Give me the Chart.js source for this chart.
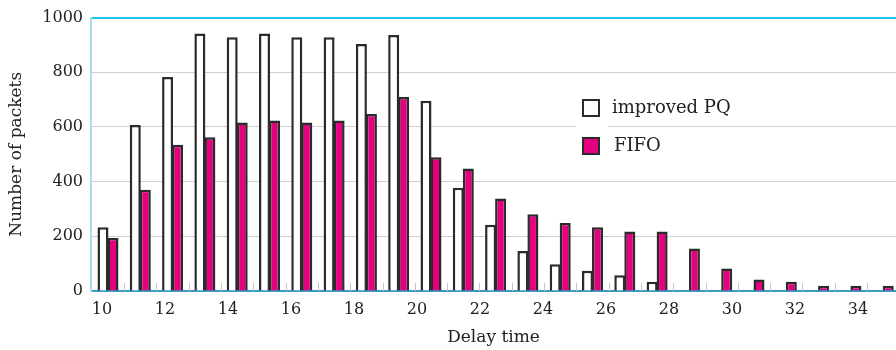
<!DOCTYPE html>
<html>
<head>
<meta charset="utf-8">
<script src="https://cdn.jsdelivr.net/npm/chart.js@4/dist/chart.umd.min.js"></script>
<style>
  html, body { margin: 0; padding: 0; background: #fff; }
  #wrap { width: 896px; height: 350px; overflow: hidden; }
</style>
</head>
<body>
<div id="wrap"><canvas id="delay-chart" width="896" height="350"></canvas></div>
<script>
// values
const delays = [10, 11, 12, 13, 14, 15, 16, 17, 18, 19, 20, 21, 22, 23, 24, 25, 26, 27, 28, 29, 30, 31, 32, 33, 34];
const improvedPQ = [233, 607, 783, 942, 928, 942, 928, 928, 903, 936, 696, 378, 242, 146, 98, 74, 58, 34, null, null, null, null, null, null, null];
const fifo = [194, 370, 535, 562, 616, 624, 616, 624, 647, 710, 489, 448, 338, 281, 249, 233, 218, 218, 155, 82, 42, 34, 19, 19, 19];
const yTicks = [0, 200, 400, 600, 800, 1000];

const serif = "'DejaVu Serif', 'Liberation Serif', serif";
const ink = '#222';

// short gray marks between the bar pairs, just above the axis
const pairTicks = {
  id: 'pairTicks',
  beforeDatasetsDraw(chart) {
    const xb = chart.scales.xb;
    const bottom = chart.chartArea.bottom;
    const ctx = chart.ctx;
    ctx.save();
    ctx.strokeStyle = '#c4c4c4';
    ctx.lineWidth = 1;
    delays.forEach(d => {
      const px = Math.round(xb.getPixelForValue(d + 0.5)) + 0.5;
      ctx.beginPath();
      ctx.moveTo(px, bottom - 8);
      ctx.lineTo(px, bottom);
      ctx.stroke();
    });
    ctx.restore();
  }
};

// legend drawn inside the plot, like the original
const insideLegend = {
  id: 'insideLegend',
  afterDraw(chart) {
    const ctx = chart.ctx;
    ctx.save();
    // gap in the 600 gridline behind the legend squares
    ctx.fillStyle = '#fff';
    ctx.fillRect(576, 118, 32, 14);
    chart.data.datasets.forEach((ds, i) => {
      const y = 99 + i * 38;
      ctx.fillStyle = ds.backgroundColor;
      ctx.fillRect(582, y, 18, 18);
      ctx.lineWidth = 2;
      ctx.strokeStyle = '#2b2b2b';
      ctx.strokeRect(583, y + 1, 16, 16);
      ctx.fillStyle = ink;
      ctx.font = '18px ' + serif;
      ctx.textBaseline = 'middle';
      ctx.fillText(ds.label, i === 0 ? 612 : 614, y + 9);
    });
    ctx.restore();
  }
};

const config = {
  type: 'bar',
  data: {
    labels: delays,
    datasets: [
      {
        label: 'improved PQ',
        data: improvedPQ,
        backgroundColor: '#ffffff',
        borderColor: '#2b2b2b',
        borderWidth: 2.5,
        xAxisID: 'xb',
        categoryPercentage: 0.62,
        barPercentage: 1.1,
      },
      {
        label: 'FIFO',
        data: fifo,
        backgroundColor: '#e4007f',
        borderColor: '#2b2b2b',
        borderWidth: 2.5,
        xAxisID: 'xb',
        categoryPercentage: 0.62,
        barPercentage: 1.1,
      },
    ],
  },
  options: {
    responsive: false,
    animation: false,
    devicePixelRatio: 1,
    layout: { padding: { top: 15, left: 0, right: 0, bottom: 0 } },
    plugins: { legend: { display: false }, tooltip: { enabled: false } },
    scales: {
      xb: {
        type: 'linear',
        display: false,
        offset: false,
        min: 9.474,
        max: 34.396,
      },
      x: {
        type: 'linear',
        position: 'bottom',
        offset: false,
        min: 9.651,
        max: 35.206,
        afterFit: s => { s.height = 59; },
        border: { color: '#3a9cc4', width: 2 },
        grid: { drawOnChartArea: false, drawTicks: false },
        ticks: {
          stepSize: 2,
          includeBounds: false,
          padding: 9,
          color: ink,
          font: { family: serif, size: 16 },
        },
        title: {
          display: true,
          text: 'Delay time',
          color: ink,
          font: { family: serif, size: 17 },
          padding: { top: 0, bottom: 2 },
        },
      },
      y: {
        min: 0,
        max: 1000,
        afterFit: s => { s.width = 91; },
        afterBuildTicks: s => { s.ticks = yTicks.map(v => ({ value: v })); },
        border: { color: '#a8dcef', width: 2 },
        grid: {
          drawTicks: false,
          color: c => c.tick.value === 1000 ? '#22c4ee' : '#cfcfcf',
          lineWidth: c => c.tick.value === 1000 ? 2 : 1,
        },
        ticks: {
          padding: 8,
          color: ink,
          font: { family: serif, size: 16 },
          callback: v => String(v),
        },
        title: {
          display: true,
          text: 'Number of packets',
          color: ink,
          font: { family: serif, size: 17 },
          padding: { top: 6, bottom: 0 },
        },
      },
    },
  },
  plugins: [pairTicks, insideLegend],
};

const delayChart = new Chart(document.querySelector('#delay-chart'), config);
</script>
</body>
</html>
